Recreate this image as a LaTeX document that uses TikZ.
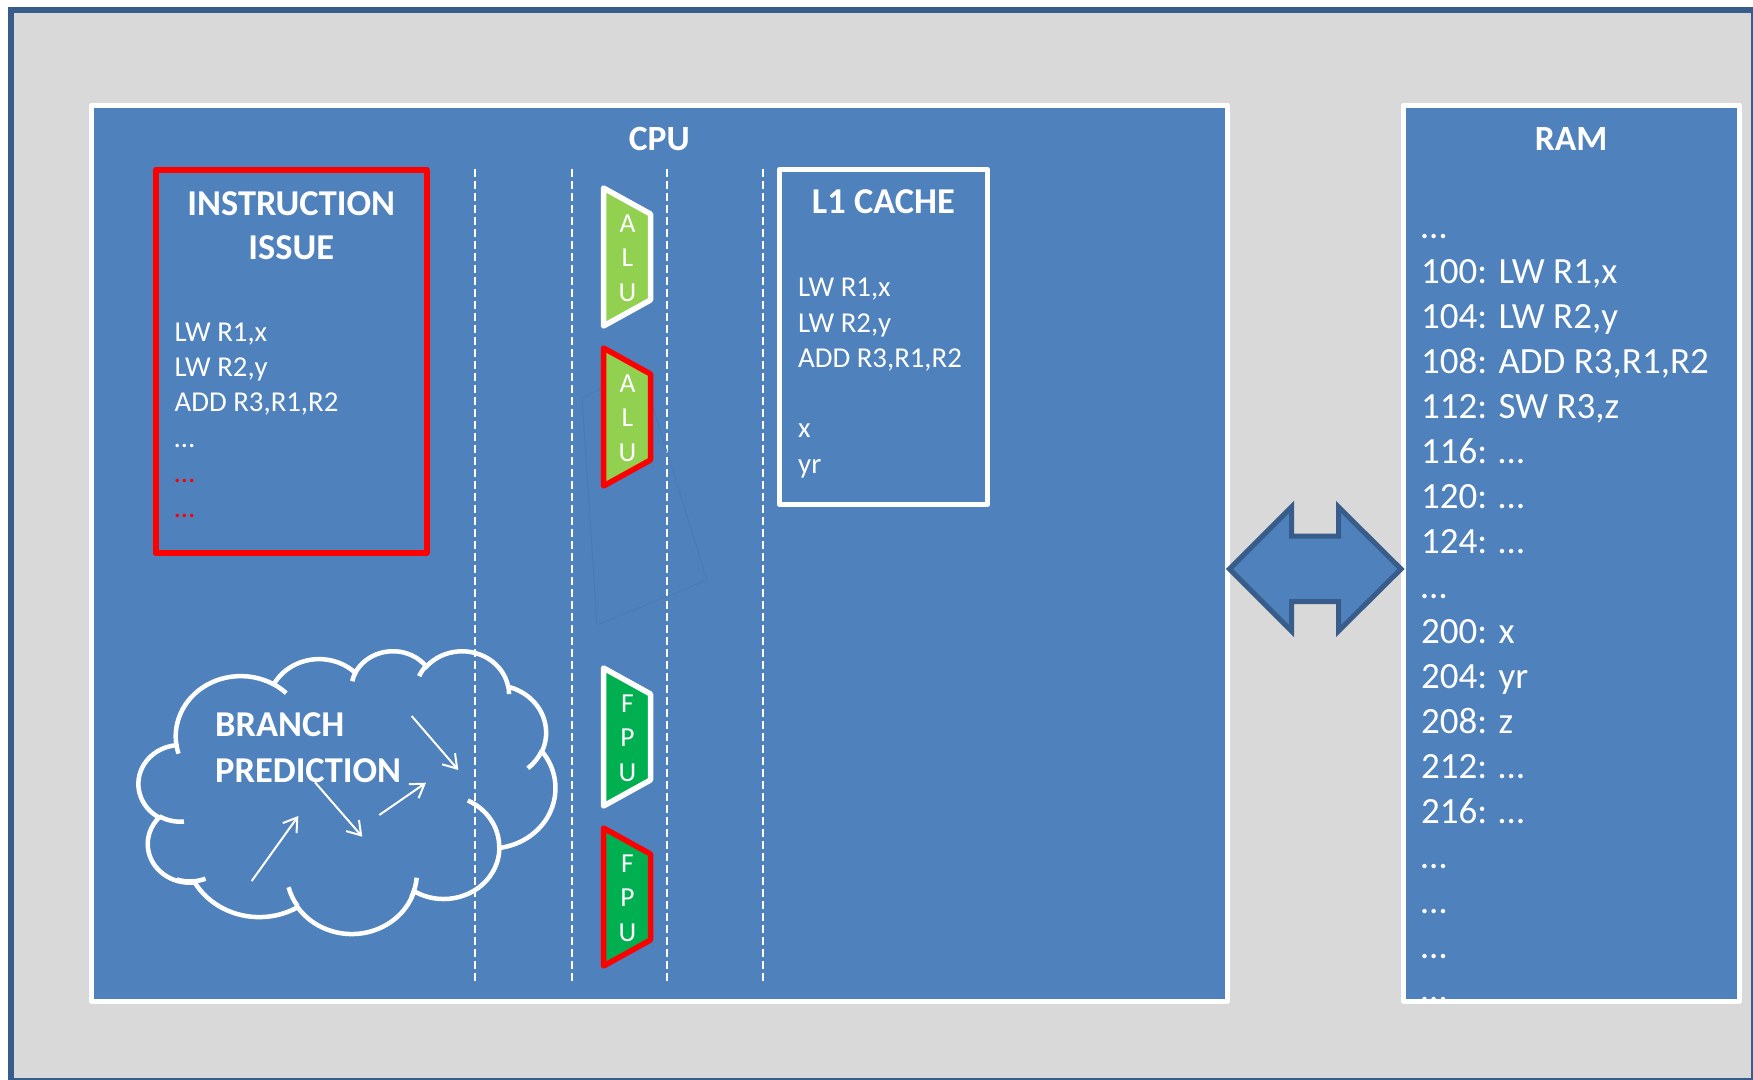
\documentclass[tikz,border=0pt]{standalone}
\usepackage{fontspec}
\setmainfont{Carlito}
\usetikzlibrary{arrows.meta}
\definecolor{bgblue}{HTML}{4F81BD}
\definecolor{darkframe}{HTML}{385D8A}
\definecolor{framegray}{HTML}{D9D9D9}
\definecolor{alugreen}{HTML}{92D050}
\definecolor{fpugreen}{HTML}{00B050}
\definecolor{ghost}{HTML}{4A7BB5}
\begin{document}
\begin{tikzpicture}[x=1pt,y=-1pt,
  panel/.style={draw=white, line width=5pt, fill=bgblue, inner sep=0pt, outer sep=0pt, line join=round},
  redbox/.style={draw=red, line width=6pt, inner sep=0pt, outer sep=0pt, line join=round},
  whitebox/.style={draw=white, line width=5pt, inner sep=0pt, outer sep=0pt, line join=round},
  head/.style={text=white, font=\fontsize{36.4}{44}\selectfont\bfseries, inner sep=0pt, anchor=base},
  small/.style={text=white, font=\fontsize{28.8}{35}\selectfont, inner sep=0pt, anchor=base west},
  ramtxt/.style={text=white, font=\fontsize{37}{45}\selectfont, inner sep=0pt, anchor=base west},
  unitlet/.style={text=white, font=\fontsize{27.5}{30}\selectfont, inner sep=0pt, anchor=base},
  unitshape/.style={line width=5.5pt, line join=round},
  lane/.style={draw=white, line width=2pt, dash pattern=on 7.5pt off 4.5pt},
  cloudline/.style={draw=white, line width=4.5pt},
  cloudarrow/.style={draw=white, line width=2pt, -{Straight Barb[length=13pt,width=17pt]}},
  dblarrow/.style={draw=darkframe, fill=bgblue, line width=5pt, line join=miter},
  carc/.style n args={4}{insert path={arc[x radius=#1, y radius=#2,
     start angle={atan2((#1)*sin(#3),(#2)*cos(#3))},
     delta angle={mod(atan2((#1)*sin((#3)+(#4)),(#2)*cos((#3)+(#4)))-atan2((#1)*sin(#3),(#2)*cos(#3))+720,360)}]}}
]
\useasboundingbox (0,0) rectangle (1753,1079);
\fill[white] (0,0) rectangle (1753,1079);
% outer frame
\draw[fill=framegray, draw=darkframe, line width=6pt] (11,9.7) rectangle (1753.5,1080.5);

% CPU and RAM panels
\node[panel, minimum width=1135.5pt, minimum height=896pt] (cpu) at (659.25,553) {};
\node[panel, minimum width=335.5pt, minimum height=896pt] (ram) at (1571.25,553) {};

% dashed lanes
\foreach \lx in {475.3,571.5,667.3,763.3}{
  \draw[lane] (\lx,169) -- (\lx,984);
}

% faint ghost shape
\draw[ghost, line width=1pt] (582,398) -- (641,369) -- (707,580) -- (597,625) -- cycle;

% execution units
\foreach \dy/\col/\fillc/\la/\lb/\lc/\nm in {0/white/alugreen/A/L/U/aluA, 160/red/alugreen/A/L/U/aluB, 480/white/fpugreen/F/P/U/fpuA, 640/red/fpugreen/F/P/U/fpuB}{
  \draw[unitshape, draw=\col, fill=\fillc, shift={(0,\dy)}] (603.5,188) -- (650.5,214) -- (650.5,300) -- (603.5,326) -- cycle;
  \node[unitlet] (\nm-1) at (627.5,232.2+\dy) {\la};
  \node[unitlet] (\nm-2) at (627.5,266.7+\dy) {\lb};
  \node[unitlet] (\nm-3) at (627.5,301.2+\dy) {\lc};
}

% instruction issue box
\node[redbox, minimum width=271.2pt, minimum height=383.3pt] (issue) at (291.1,361.35) {};
\node[head] (issueh1) at (291.3,215) {INSTRUCTION};
\node[head] (issueh2) at (291.3,259.3) {ISSUE};
\node[small] (is1) at (174.5,341) {LW R1,x};
\node[small] (is2) at (174.5,376.3) {LW R2,y};
\node[small] (is3) at (174.5,411.7) {ADD R3,R1,R2};
\node[small] (is4) at (174.5,447) {…};
\node[small, text=red] (is5) at (174.5,482.3) {…};
\node[small, text=red] (is6) at (174.5,517.6) {…};

% L1 cache box
\node[whitebox, minimum width=208.2pt, minimum height=335.2pt] (l1) at (883.4,336.9) {};
\node[head] (l1h) at (883.4,213.3) {L1 CACHE};
\node[small] (l1a) at (798,296.7) {LW R1,x};
\node[small] (l1b) at (798,332) {LW R2,y};
\node[small] (l1c) at (798,367.3) {ADD R3,R1,R2};
\node[small] (l1d) at (798,437.9) {x};
\node[small] (l1e) at (798,473.2) {yr};

% CPU and RAM headings
\node[head, font=\fontsize{35.5}{44}\selectfont\bfseries] (cpuh) at (659.3,150) {CPU};
\node[head, font=\fontsize{35.5}{44}\selectfont\bfseries] (ramh) at (1571.2,150) {RAM};

% RAM contents
\node[ramtxt] (r0) at (1421,238.5) {…};
\node[ramtxt] (r1) at (1421,283.5) {100: LW R1,x};
\node[ramtxt] (r2) at (1421,328.5) {104: LW R2,y};
\node[ramtxt] (r3) at (1421,373.5) {108: ADD R3,R1,R2};
\node[ramtxt] (r4) at (1421,418.5) {112: SW R3,z};
\node[ramtxt] (r5) at (1421,463.5) {116: …};
\node[ramtxt] (r6) at (1421,508.5) {120: …};
\node[ramtxt] (r7) at (1421,553.5) {124: …};
\node[ramtxt] (r8) at (1421,598.5) {…};
\node[ramtxt] (r9) at (1421,643.5) {200: x};
\node[ramtxt] (r10) at (1421,688.5) {204: yr};
\node[ramtxt] (r11) at (1421,733.5) {208: z};
\node[ramtxt] (r12) at (1421,778.5) {212: …};
\node[ramtxt] (r13) at (1421,823.5) {216: …};
\node[ramtxt] (r14) at (1421,868.5) {…};
\node[ramtxt] (r15) at (1421,913.5) {…};
\node[ramtxt] (r16) at (1421,958.5) {…};
\node[ramtxt] (r17) at (1421,1001) {…};

% branch prediction cloud
\begin{scope}[shift={(138.7,650.3)}, xscale=0.9644, yscale=0.6544]
\draw[cloudline] (39,143.7)
  [carc={67.53}{91.90}{-190.4875}{123.7805}]
  [carc={53.33}{72.67}{-144.1024}{89.9452}]
  [carc={43.65}{59.45}{-145.8079}{99.7230}]
  [carc={48.57}{65.95}{-130.9861}{117.2417}]
  [carc={53.33}{72.73}{-78.7089}{109.0269}]
  [carc={67.75}{92.20}{-46.2673}{130.2690}]
  [carc={57.85}{78.67}{0.6250}{114.0333}]
  [carc={67.52}{92.15}{22.4516}{115.1726}]
  [carc={77.20}{105.43}{66.2426}{75.7110}]
  [carc={43.60}{59.18}{-274.9421}{146.7356}]
  [carc={43.45}{59.45}{-246.8285}{152.5189}] -- cycle;
\draw[cloudline]
  (46.93,261.77) [carc={43.45}{59.45}{86.742}{26.4295}]
  (69.28,348.99) [carc={43.60}{59.18}{73.6105}{30.0640}]
  (164.78,390.90) [carc={67.52}{92.15}{137.6242}{23.5228}]
  (288.27,347.51) [carc={67.52}{92.15}{6.4533}{24.7368}]
  (341.29,229.54) [carc={57.85}{78.67}{-70.2924}{70.9174}]
  (417.98,153.54) [carc={53.33}{72.73}{30.3180}{27.7515}]
  (383.24,54.26) [carc={48.57}{65.95}{-13.7443}{14.8589}]
  (290.78,39.52) [carc={48.57}{65.95}{-149.1815}{18.1954}]
  (221.41,47.20) [carc={43.65}{59.45}{-163.4943}{17.6864}]
  (140.00,51.92) [carc={67.53}{91.90}{-66.7070}{12.3194}]
  (41.27,157.89) [carc={67.53}{91.90}{157.6544}{11.8539}];
\end{scope}
\node[head, anchor=base west] (bp1) at (215,736.7) {BRANCH};
\node[head, anchor=base west] (bp2) at (215,782.3) {PREDICTION};
\coordinate (a1s) at (251.7,881);   \coordinate (a1e) at (298.3,816);
\coordinate (a2s) at (315,782.3);   \coordinate (a2e) at (362.3,836.7);
\coordinate (a3s) at (379.3,815);   \coordinate (a3e) at (426,782.7);
\coordinate (a4s) at (411.7,716);   \coordinate (a4e) at (458.3,770);
\draw[cloudarrow] (a1s) -- (a1e);
\draw[cloudarrow] (a2s) -- (a2e);
\draw[cloudarrow] (a3s) -- (a3e);
\draw[cloudarrow] (a4s) -- (a4e);

% double arrow between CPU and RAM
\draw[dblarrow] (1229.5,569) -- (1291.5,507) -- (1291.5,536) -- (1338.5,536) -- (1338.5,507)
  -- (1401,569) -- (1338.5,631) -- (1338.5,601.5) -- (1291.5,601.5) -- (1291.5,631) -- cycle;
\end{tikzpicture}
\end{document}
